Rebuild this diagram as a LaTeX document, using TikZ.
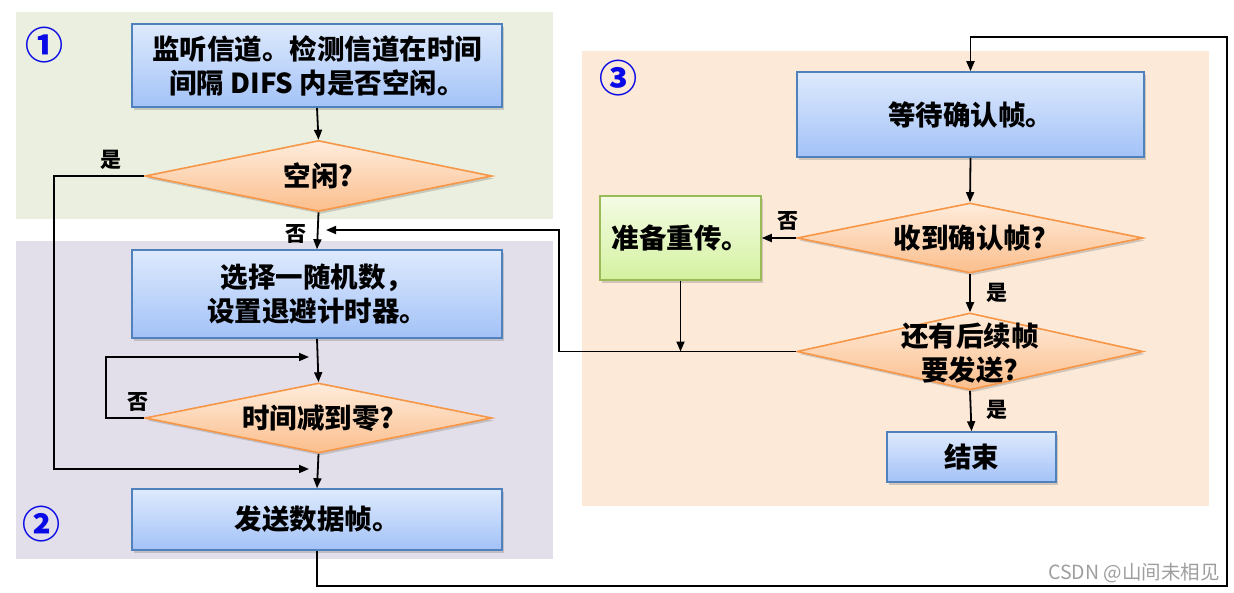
\documentclass[tikz,border=0pt]{standalone}
\usepackage{fontspec}
\newfontfamily\cjk{Noto Sans CJK SC}[BoldFont={Noto Sans CJK SC Black}]
\usetikzlibrary{shapes.geometric,arrows.meta,shadows}
\definecolor{bgA}{RGB}{235,239,223}
\definecolor{bgB}{RGB}{227,223,234}
\definecolor{bgC}{RGB}{253,233,216}
\definecolor{boxtop}{RGB}{222,234,253}
\definecolor{boxbot}{RGB}{163,194,247}
\definecolor{boxline}{RGB}{79,129,189}
\definecolor{diatop}{RGB}{254,236,220}
\definecolor{diabot}{RGB}{251,190,140}
\definecolor{dialine}{RGB}{247,150,70}
\definecolor{gtop}{RGB}{244,251,228}
\definecolor{gbot}{RGB}{212,242,160}
\definecolor{gline}{RGB}{155,187,89}
\definecolor{numblue}{RGB}{10,10,230}
\begin{document}
\begin{tikzpicture}[x=1pt,y=-1pt,
  shad/.style={drop shadow={opacity=0.35,shadow xshift=2pt,shadow yshift=-2.5pt}},
  txt/.style={font=\cjk\bfseries\fontsize{27.5}{34}\selectfont, align=center},
  box/.style={draw=boxline, line width=1.6pt, top color=boxtop, bottom color=boxbot, shad, txt, inner sep=0pt},
  gbox/.style={draw=gline, line width=1.6pt, top color=gtop, bottom color=gbot, shad, txt, inner sep=0pt},
  dia/.style={shape=diamond, draw=dialine, line width=1.6pt, top color=diatop, bottom color=diabot, shad, inner sep=0pt, aspect=4.9},
  dlab/.style={txt},
  lab/.style={font=\cjk\bfseries\fontsize{21}{21}\selectfont, inner sep=1pt},
  num/.style={font=\cjk\bfseries\fontsize{38}{38}\selectfont, text=numblue, inner sep=0pt},
  arr/.style={draw=black, line width=1.8pt, -{Triangle[length=10pt,width=8pt]}},
  ln/.style={draw=black, line width=1.8pt}]
\useasboundingbox (0,0) rectangle (1234,592);
\fill[white] (0,0) rectangle (1234,592);
% backgrounds
\fill[bgA] (16,12) rectangle (553,219);
\fill[bgB] (16,241) rectangle (553,559);
\fill[bgC] (582,51) rectangle (1209,506);
% numbers
\node[num] (n1) at (44,45) {①};
\node[num] (n2) at (42,524) {②};
\node[num] (n3) at (618,78) {③};
% nodes
\node[box, minimum width=370, minimum height=83] (b1) at (317,65.5) {监听信道。检测信道在时间\\间隔 DIFS 内是否空闲。};
\node[dia, minimum width=347, minimum height=71, label={[dlab]center:空闲?}] (d1) at (318.5,176) {};
\node[box, minimum width=370, minimum height=88] (b2) at (317,294) {选择一随机数，\\设置退避计时器。};
\node[dia, minimum width=347, minimum height=70, label={[dlab]center:时间减到零?}] (d2) at (318.5,418) {};
\node[box, minimum width=370, minimum height=61] (b3) at (317,519.5) {发送数据帧。};
\node[box, minimum width=347, minimum height=85] (bw) at (970.5,114.5) {等待确认帧。};
\node[dia, minimum width=346, minimum height=70, label={[dlab]center:收到确认帧?}] (d3) at (970,238) {};
\node[gbox, minimum width=161, minimum height=84] (g) at (680.5,238) {准备重传。};
\node[dia, minimum width=346, minimum height=77, label={[dlab,yshift=-2pt]center:还有后续帧\\要发送?}] (d4) at (970,351.5) {};
\node[box, minimum width=169, minimum height=50] (be) at (971.5,457) {结束};
% free ends
\coordinate (t1) at (309,469);
\coordinate (t2) at (309,357);
\coordinate (t3) at (326,230);
\coordinate (c2) at (1227,37);
% connectors
\draw[arr] (b1.south) -- (d1.north);
\draw[arr] (d1.south) -- (b2.north);
\draw[arr] (d1.west) -- ++(-90,0) |- (t1);
\draw[arr] (b2.south) -- (d2.north);
\draw[arr] (d2.west) -- ++(-38,0) |- (t2);
\draw[arr] (d2.south) -- (b3.north);
\draw[arr] (b3.south) -- ++(0,35) -| (c2) -| (bw.north);
\draw[arr] (bw.south) -- (d3.north);
\draw[arr] (d3.west) -- (g.east);
\draw[arr] (d3.south) -- (d4.north);
\draw[arr] (d4.south) -- (be.north);
\draw[arr] (g.south) -- (g.south |- d4.west);
\draw[arr] (d4.west) -- ++(-237,0) |- (t3);
% labels
\node[lab] (l1) at (111,160) {是};
\node[lab] (l2) at (296,234) {否};
\node[lab] (l3) at (138,402) {否};
\node[lab] (l4) at (788,221) {否};
\node[lab] (l5) at (997,293) {是};
\node[lab] (l6) at (997,410) {是};
% watermark
\node[anchor=east, text=black!38, font=\cjk\fontsize{19.5}{20}\selectfont, inner sep=0pt] (wm) at (1220,573) {CSDN @山间未相见};
\end{tikzpicture}
\end{document}
